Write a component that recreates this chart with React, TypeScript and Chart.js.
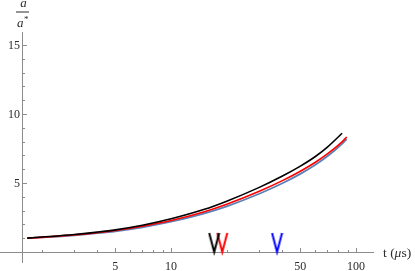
import React, { useEffect, useRef } from "react";
import { Chart, registerables } from "chart.js";

Chart.register(...registerables);

// ---- data ----
const times = [1.67, 2, 3, 4, 5, 7, 10, 15, 20, 30, 40, 50, 60, 70, 84, 89];
const blackRatio = [1.0, 1.08, 1.27, 1.44, 1.6, 1.93, 2.4, 3.07, 3.68, 4.68, 5.5, 6.22, 6.9, 7.6, 8.6, null];
const redRatio = [1.0, 1.06, 1.24, 1.4, 1.55, 1.86, 2.28, 2.9, 3.46, 4.4, 5.17, 5.85, 6.48, 7.1, 7.98, 8.33];
const blueRatio = [1.0, 1.05, 1.21, 1.36, 1.5, 1.79, 2.19, 2.78, 3.31, 4.22, 4.98, 5.66, 6.3, 6.93, 7.83, 8.18];

const markerTimes = [17.1, 18.9, 37.4];
const markerColors = ["#000000", "#ff0000", "#0000ff"];

const xMajorTicks = [5, 10, 50, 100];
const xMinorTicks = [2, 3, 4, 6, 7, 8, 9, 20, 30, 40, 60, 70, 80, 90];
const yMajorTicks = [5, 10, 15];
const yMinorTicks = [1, 2, 3, 4, 6, 7, 8, 9, 11, 12, 13, 14];

const xRange = [1.19, 125];
const yRange = [-0.8, 15.94];
const axisCrossT = 1.57;

const AXIS_COLOR = "#8c8c8c";
const TEXT_COLOR = "#2b2b2b";
const FONT = "'Liberation Serif', 'Times New Roman', serif";

function toPoints(values: (number | null)[]) {
  const pts: { x: number; y: number }[] = [];
  values.forEach((v, i) => {
    if (v !== null) pts.push({ x: times[i], y: v });
  });
  return pts;
}

function makeVee(color: string) {
  const c = document.createElement("canvas");
  const w = 13;
  const h = 40;
  c.width = w;
  c.height = h;
  const g = c.getContext("2d")!;
  g.strokeStyle = color;
  g.lineWidth = 2;
  g.lineJoin = "miter";
  g.beginPath();
  g.moveTo(1.5, 1);
  g.lineTo(w / 2, h / 2);
  g.lineTo(w - 1.5, 1);
  g.stroke();
  return c;
}

const axesPlugin = {
  id: "mmaAxes",
  beforeDatasetsDraw(chart: any) {
    const { ctx, chartArea, scales } = chart;
    const xs = scales.x;
    const ys = scales.y;
    const x0 = Math.round(xs.getPixelForValue(axisCrossT)) + 0.5;
    const y0 = Math.round(ys.getPixelForValue(0)) + 0.5;
    ctx.save();
    ctx.strokeStyle = AXIS_COLOR;
    ctx.lineWidth = 1;
    ctx.beginPath();
    ctx.moveTo(chartArea.left, y0);
    ctx.lineTo(chartArea.right, y0);
    ctx.moveTo(x0, chartArea.top);
    ctx.lineTo(x0, chartArea.bottom);
    ctx.stroke();
    // x ticks (upward)
    ctx.beginPath();
    xMajorTicks.forEach((t) => {
      const px = Math.round(xs.getPixelForValue(t)) + 0.5;
      ctx.moveTo(px, y0);
      ctx.lineTo(px, y0 - 4.5);
    });
    xMinorTicks.forEach((t) => {
      const px = Math.round(xs.getPixelForValue(t)) + 0.5;
      ctx.moveTo(px, y0);
      ctx.lineTo(px, y0 - 2.5);
    });
    // y ticks (rightward)
    yMajorTicks.forEach((v) => {
      const py = Math.round(ys.getPixelForValue(v)) + 0.5;
      ctx.moveTo(x0, py);
      ctx.lineTo(x0 + 4.5, py);
    });
    yMinorTicks.forEach((v) => {
      const py = Math.round(ys.getPixelForValue(v)) + 0.5;
      ctx.moveTo(x0, py);
      ctx.lineTo(x0 + 2.5, py);
    });
    ctx.stroke();

    // tick labels
    ctx.fillStyle = TEXT_COLOR;
    ctx.font = `12px ${FONT}`;
    ctx.textAlign = "center";
    ctx.textBaseline = "alphabetic";
    xMajorTicks.forEach((t) => {
      ctx.fillText(String(t), xs.getPixelForValue(t), 270);
    });
    ctx.textAlign = "right";
    yMajorTicks.forEach((v) => {
      ctx.fillText(String(v), x0 - 2.5, ys.getPixelForValue(v) + 4.5);
    });

    // x axis label
    ctx.textAlign = "left";
    ctx.textBaseline = "alphabetic";
    let lx = chartArea.right + 9;
    const ly = y0 + 4.5;
    ctx.font = `13.5px ${FONT}`;
    ctx.fillText("t (", lx, ly);
    lx += ctx.measureText("t (").width;
    ctx.font = `italic 13.5px ${FONT}`;
    ctx.fillText("\u03bc", lx, ly);
    lx += ctx.measureText("\u03bc").width;
    ctx.font = `13.5px ${FONT}`;
    ctx.fillText("s)", lx, ly);

    // y axis label: fraction a / a*
    const cx = x0;
    ctx.textAlign = "center";
    ctx.font = `italic 13px ${FONT}`;
    ctx.fillText("a", cx + 1, 7);
    ctx.strokeStyle = TEXT_COLOR;
    ctx.lineWidth = 1;
    ctx.beginPath();
    ctx.moveTo(cx - 6.5, 12);
    ctx.lineTo(cx + 6.5, 12);
    ctx.stroke();
    ctx.textAlign = "left";
    ctx.fillText("a", cx - 5.5, 26.5);
    ctx.font = `9px ${FONT}`;
    ctx.fillText("*", cx + 1.5, 22);
    ctx.restore();
  },
};

export default function App() {
  const ref = useRef<HTMLCanvasElement | null>(null);
  useEffect(() => {
    const canvas = ref.current;
    if (!canvas) return;
    const markerDatasets = markerTimes.map((t, i) => ({
      type: "line" as const,
      label: `marker${i}`,
      data: [{ x: t, y: 0 }],
      showLine: false,
      pointStyle: makeVee(markerColors[i]),
      pointRadius: 7,
      clip: false as any,
      order: 10,
    }));
    const chart = new Chart(canvas, {
      type: "line",
      data: {
        datasets: [
          {
            label: "black",
            data: toPoints(blackRatio),
            borderColor: "#000000",
            borderWidth: 1.6,
            pointRadius: 0,
            cubicInterpolationMode: "monotone",
            order: 0,
          },
          {
            label: "red",
            data: toPoints(redRatio),
            borderColor: "#ff0000",
            borderWidth: 1.6,
            pointRadius: 0,
            cubicInterpolationMode: "monotone",
            order: 1,
          },
          {
            label: "blue",
            data: toPoints(blueRatio),
            borderColor: "#5E81B5",
            borderWidth: 1.8,
            pointRadius: 0,
            cubicInterpolationMode: "monotone",
            order: 2,
          },
          ...markerDatasets,
        ] as any,
      },
      options: {
        responsive: false,
        animation: false,
        events: [],
        parsing: false as any,
        layout: { autoPadding: false, padding: { left: 0, right: 41, top: 32, bottom: 8 } },
        plugins: { legend: { display: false }, tooltip: { enabled: false } },
        scales: {
          x: { type: "logarithmic", min: xRange[0], max: xRange[1], display: false },
          y: { type: "linear", min: yRange[0], max: yRange[1], display: false },
        },
      },
      plugins: [axesPlugin],
    });
    return () => chart.destroy();
  }, []);
  return (
    <div style={{ position: "fixed", left: 0, top: 0, width: 415, height: 271, background: "#fff" }}>
      <canvas ref={ref} width={415} height={271} style={{ display: "block" }} />
    </div>
  );
}
